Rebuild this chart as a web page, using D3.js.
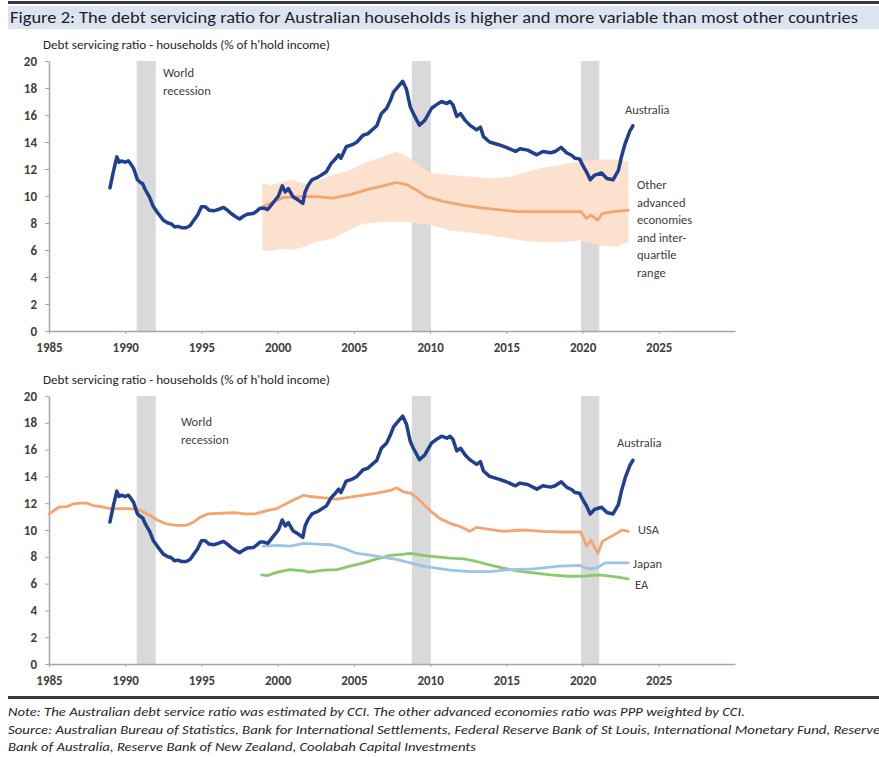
<!DOCTYPE html>
<html>
<head>
<meta charset="utf-8">
<script src="https://cdn.jsdelivr.net/npm/d3@7"></script>
<style>
  body { margin: 0; background: #fff; }
  text { font-family: Carlito, "Open Sans", sans-serif; }
</style>
</head>
<body>
<script>
// ---- data ----
let xTicks = [1985, 1990, 1995, 2000, 2005, 2010, 2015, 2020, 2025];
let yTicks = [0, 2, 4, 6, 8, 10, 12, 14, 16, 18, 20];
let recessions = [[1990.75, 1992.0], [2008.8, 2010.05], [2019.9, 2021.1]];

let australia = [[1989.0,10.6],[1989.2,11.7],[1989.45,12.9],[1989.6,12.5],[1989.75,12.6],[1990.0,12.5],[1990.2,12.6],[1990.35,12.4],[1990.55,12.05],[1990.8,11.2],[1991.0,11.0],[1991.15,10.9],[1991.3,10.5],[1991.6,9.9],[1991.85,9.2],[1992.1,8.8],[1992.5,8.2],[1992.8,8.0],[1993.0,7.95],[1993.25,7.7],[1993.45,7.75],[1993.7,7.65],[1994.0,7.65],[1994.25,7.8],[1994.5,8.2],[1994.75,8.6],[1995.0,9.2],[1995.25,9.2],[1995.5,8.95],[1995.8,8.9],[1996.1,9.0],[1996.45,9.15],[1996.7,8.95],[1996.95,8.7],[1997.2,8.5],[1997.5,8.3],[1997.75,8.5],[1998.0,8.65],[1998.4,8.7],[1998.6,8.85],[1998.85,9.1],[1999.1,9.1],[1999.35,9.0],[1999.7,9.5],[2000.05,10.0],[2000.3,10.75],[2000.5,10.3],[2000.7,10.55],[2001.0,9.95],[2001.35,9.7],[2001.65,9.45],[2001.8,10.3],[2002.0,10.8],[2002.25,11.2],[2002.65,11.4],[2003.2,11.8],[2003.5,12.4],[2003.75,12.7],[2004.0,13.05],[2004.15,12.8],[2004.5,13.65],[2004.9,13.8],[2005.2,14.0],[2005.6,14.5],[2005.9,14.6],[2006.3,15.0],[2006.5,15.2],[2006.8,16.1],[2007.15,16.5],[2007.4,17.1],[2007.6,17.7],[2007.9,18.1],[2008.2,18.5],[2008.45,17.9],[2008.7,16.6],[2008.9,16.1],[2009.3,15.25],[2009.65,15.6],[2010.1,16.5],[2010.4,16.75],[2010.75,17.0],[2011.1,16.85],[2011.3,17.0],[2011.5,16.75],[2011.75,15.9],[2012.0,16.1],[2012.3,15.6],[2012.6,15.25],[2013.05,14.9],[2013.3,15.1],[2013.5,14.4],[2013.9,14.0],[2014.5,13.8],[2015.0,13.6],[2015.6,13.3],[2015.9,13.5],[2016.4,13.4],[2017.0,13.05],[2017.4,13.3],[2017.9,13.2],[2018.2,13.3],[2018.6,13.6],[2018.95,13.2],[2019.3,13.0],[2019.5,12.8],[2019.8,12.75],[2020.0,12.3],[2020.3,11.7],[2020.5,11.2],[2020.8,11.55],[2021.25,11.7],[2021.6,11.3],[2022.0,11.2],[2022.35,11.9],[2022.55,12.9],[2022.8,13.9],[2023.1,14.8],[2023.3,15.2]];

let otherMedian = [[1999.0,9.2],[1999.6,9.5],[2000.4,9.9],[2001.5,9.95],[2002.5,9.95],[2003.6,9.85],[2004.75,10.1],[2005.8,10.45],[2006.9,10.75],[2007.8,11.0],[2008.45,10.85],[2009.1,10.45],[2009.75,9.95],[2010.85,9.6],[2012.2,9.3],[2013.5,9.1],[2015.7,8.85],[2017.9,8.85],[2019.9,8.85],[2020.25,8.35],[2020.55,8.6],[2021.0,8.2],[2021.3,8.7],[2022.0,8.85],[2023.0,8.95]];

let bandYears = [1999.0,1999.5,2000.4,2001.0,2001.9,2002.5,2003.6,2004.75,2005.6,2006.9,2007.8,2008.4,2010.0,2011.3,2012.6,2013.9,2015.25,2016.4,2017.2,2018.5,2019.8,2021.1,2022.2,2023.0];
let bandUpper = [10.95,10.8,11.05,11.2,10.85,11.1,11.55,11.9,12.4,12.9,13.3,13.0,11.7,11.55,11.45,11.3,11.45,11.8,12.05,12.3,12.55,12.7,12.7,12.55];
let bandLower = [6.0,5.9,6.1,6.0,6.3,6.6,6.85,7.5,7.95,8.1,8.1,8.1,7.85,7.45,7.3,7.1,6.85,6.65,6.6,6.6,6.7,6.35,6.25,6.6];

let usa = [[1985.0,11.2],[1985.65,11.7],[1986.2,11.75],[1986.6,11.95],[1987.05,12.0],[1987.5,12.0],[1987.95,11.8],[1988.4,11.75],[1989.0,11.6],[1989.5,11.6],[1990.1,11.6],[1990.8,11.55],[1991.2,11.35],[1991.6,11.1],[1992.1,10.75],[1992.7,10.45],[1993.35,10.35],[1994.0,10.35],[1994.5,10.6],[1994.9,10.95],[1995.4,11.2],[1996.3,11.25],[1997.2,11.3],[1997.8,11.2],[1998.5,11.2],[1999.3,11.45],[1999.95,11.6],[2000.8,12.1],[2001.7,12.6],[2002.1,12.5],[2003.0,12.4],[2003.9,12.3],[2004.75,12.45],[2005.65,12.6],[2006.5,12.75],[2007.4,12.95],[2007.8,13.15],[2008.25,12.85],[2008.7,12.75],[2009.1,12.45],[2009.55,11.95],[2010.1,11.35],[2010.65,10.85],[2011.3,10.5],[2012.0,10.25],[2012.6,9.9],[2013.05,10.2],[2013.9,10.05],[2014.8,9.9],[2016.1,10.0],[2017.4,9.9],[2018.7,9.85],[2019.9,9.85],[2020.25,8.8],[2020.55,9.25],[2021.0,8.25],[2021.3,9.15],[2022.0,9.6],[2022.6,10.0],[2023.0,9.9]];

let japan = [[1999.05,8.8],[2000.0,8.85],[2000.8,8.8],[2001.7,9.0],[2002.6,8.95],[2003.5,8.9],[2004.3,8.65],[2005.2,8.25],[2006.0,8.15],[2006.9,7.95],[2007.8,7.8],[2008.7,7.55],[2009.55,7.3],[2010.4,7.15],[2011.3,7.0],[2012.6,6.9],[2013.9,6.9],[2015.25,7.05],[2016.8,7.1],[2018.5,7.3],[2019.8,7.35],[2020.45,7.1],[2020.9,7.15],[2021.5,7.55],[2023.0,7.55]];

let ea = [[1998.95,6.65],[1999.3,6.6],[2000.0,6.85],[2000.8,7.05],[2001.7,6.95],[2002.1,6.85],[2003.0,7.0],[2003.9,7.05],[2004.75,7.3],[2005.65,7.55],[2006.5,7.85],[2007.4,8.1],[2008.3,8.2],[2008.7,8.25],[2009.55,8.1],[2010.4,8.0],[2011.3,7.9],[2012.2,7.85],[2013.05,7.65],[2013.9,7.4],[2014.8,7.15],[2015.7,6.95],[2016.8,6.8],[2017.9,6.65],[2019.0,6.55],[2020.0,6.55],[2021.1,6.65],[2022.2,6.5],[2023.0,6.35]];

// ---- layout ----
let width = 879, height = 757;
let textColor = "#404040";
let ausColor = "#203f8e", orange = "#f4a56f", bandColor = "#fce1cf";
let japanColor = "#9cc3e8", eaColor = "#8cc86c", recessColor = "#d9d9d9";

let svg = d3.select("body").append("svg")
    .attr("width", width)
    .attr("height", height)
    .style("background", "#fff");

// header bar and title
svg.append("rect").attr("x", 8).attr("y", 1).attr("width", width - 8).attr("height", 3).attr("fill", "#3a3a3a");
svg.append("rect").attr("x", 8).attr("y", 6).attr("width", width - 8).attr("height", 23).attr("fill", "#dce4f2");
svg.append("text")
    .attr("x", 10).attr("y", 23)
    .attr("textLength", 848).attr("lengthAdjust", "spacingAndGlyphs")
    .style("font-size", "16px").style("fill", "#1e1e1e")
    .text("Figure 2: The debt servicing ratio for Australian households is higher and more variable than most other countries");

let xScale = d3.scaleLinear().domain([1985, 2030]).range([49, 735]);

function drawPanel(top, bottom, series, band, labels, recessLabel) {
    let yScale = d3.scaleLinear().domain([0, 20]).range([bottom, top]);
    let g = svg.append("g");

    // y-axis title
    g.append("text")
        .attr("x", 43).attr("y", top - 12)
        .attr("textLength", 287).attr("lengthAdjust", "spacingAndGlyphs")
        .style("font-size", "12px").style("fill", "#262626")
        .text("Debt servicing ratio - households (% of h'hold income)");

    // recession shading
    g.selectAll("rect.recess").data(recessions).enter().append("rect")
        .attr("class", "recess")
        .attr("x", d => xScale(d[0]))
        .attr("width", d => xScale(d[1]) - xScale(d[0]))
        .attr("y", top)
        .attr("height", bottom - top)
        .attr("fill", recessColor);

    g.append("text")
        .attr("x", recessLabel[0]).attr("y", recessLabel[1])
        .style("font-size", "12.5px").style("fill", textColor)
        .text("World");
    g.append("text")
        .attr("x", recessLabel[0]).attr("y", recessLabel[1] + 18)
        .style("font-size", "12.5px").style("fill", textColor)
        .text("recession");

    // inter-quartile band
    if (band) {
        let area = d3.area()
            .x((d, i) => xScale(bandYears[i]))
            .y0((d, i) => yScale(bandLower[i]))
            .y1((d, i) => yScale(bandUpper[i]));
        g.append("path")
            .datum(bandYears)
            .attr("d", area)
            .attr("fill", bandColor);
    }

    // axes
    let yAxis = d3.axisLeft(yScale).tickValues(yTicks).tickSize(4).tickSizeOuter(0).tickPadding(8);
    let xAxis = d3.axisBottom(xScale).tickValues(xTicks).tickFormat(d3.format("d")).tickSize(3).tickSizeOuter(0).tickPadding(9);

    let ya = g.append("g").attr("transform", "translate(49,0)").call(yAxis);
    let xa = g.append("g").attr("transform", "translate(0," + bottom + ")").call(xAxis);
    [ya, xa].forEach(function (a) {
        a.select(".domain").attr("stroke", "#a6a6a6").attr("stroke-width", 1.5);
        a.selectAll(".tick line").attr("stroke", "#a6a6a6");
        a.selectAll(".tick text")
            .style("font-size", "13px")
            .style("font-weight", "600")
            .style("fill", textColor)
            .style("font-family", "Carlito, 'Open Sans', sans-serif");
    });

    // lines
    let line = d3.line()
        .x(d => xScale(d[0]))
        .y(d => yScale(d[1]));
    series.forEach(function (s) {
        g.append("path")
            .datum(s.data)
            .attr("d", line)
            .attr("fill", "none")
            .attr("stroke", s.color)
            .attr("stroke-width", s.width)
            .attr("stroke-linejoin", "round")
            .attr("stroke-linecap", "round");
    });

    // series labels
    labels.forEach(function (l) {
        l.lines.forEach(function (t, i) {
            g.append("text")
                .attr("x", l.x).attr("y", l.y + i * 17.6)
                .style("font-size", "12.5px").style("fill", textColor)
                .text(t);
        });
    });
}

// top panel
drawPanel(61, 331,
    [
        { data: otherMedian, color: orange, width: 2.8 },
        { data: australia, color: ausColor, width: 3.5 }
    ],
    true,
    [
        { x: 625, y: 114, lines: ["Australia"] },
        { x: 637, y: 189, lines: ["Other", "advanced", "economies", "and inter-", "quartile", "range"] }
    ],
    [163, 77]);

// bottom panel
drawPanel(396, 664,
    [
        { data: ea, color: eaColor, width: 2.8 },
        { data: japan, color: japanColor, width: 2.8 },
        { data: usa, color: orange, width: 2.8 },
        { data: australia, color: ausColor, width: 3.5 }
    ],
    false,
    [
        { x: 617, y: 447, lines: ["Australia"] },
        { x: 638, y: 534, lines: ["USA"] },
        { x: 633, y: 568, lines: ["Japan"] },
        { x: 635, y: 589, lines: ["EA"] }
    ],
    [181, 426]);

// footer
svg.append("rect").attr("x", 8).attr("y", 696).attr("width", width - 8).attr("height", 3).attr("fill", "#3a3a3a");
let notes = [
    "Note: The Australian debt service ratio was estimated by CCI. The other advanced economies ratio was PPP weighted by CCI.",
    "Source: Australian Bureau of Statistics, Bank for International Settlements, Federal Reserve Bank of St Louis, International Monetary Fund, Reserve",
    "Bank of Australia, Reserve Bank of New Zealand, Coolabah Capital Investments"
];
let noteLengths = [737, 872, 468];
notes.forEach(function (t, i) {
    svg.append("text")
        .attr("x", 8).attr("y", 716 + i * 17.5)
        .attr("textLength", noteLengths[i]).attr("lengthAdjust", "spacingAndGlyphs")
        .style("font-size", "11.5px").style("font-style", "italic").style("fill", "#262626")
        .text(t);
});
</script>
</body>
</html>
